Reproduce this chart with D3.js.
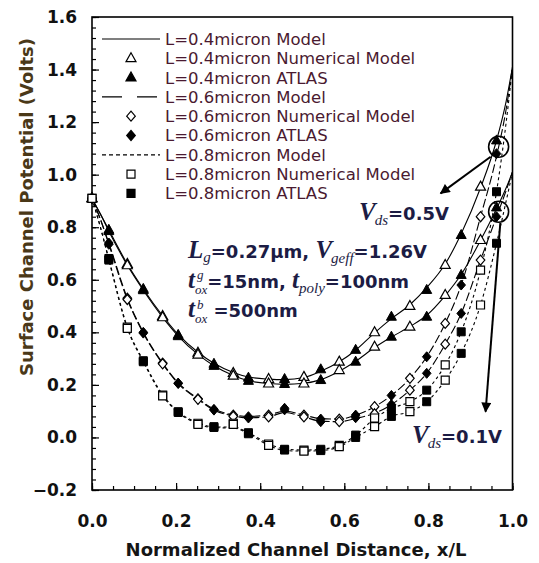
<!DOCTYPE html>
<html>
<head>
<meta charset="utf-8">
<script src="https://cdn.jsdelivr.net/npm/d3@7"></script>
<style>
  body { margin: 0; background: #fff; }
</style>
</head>
<body>
<svg id="chart" width="539" height="563"></svg>
<script>
// ---- data ----
const yTicks = [-0.2, 0.0, 0.2, 0.4, 0.6, 0.8, 1.0, 1.2, 1.4, 1.6];
const xTicks = [0.0, 0.2, 0.4, 0.6, 0.8, 1.0];

// model curves (lines)
const modelX = [0, 0.02, 0.04, 0.084, 0.122, 0.168, 0.205, 0.252, 0.29, 0.336, 0.372, 0.42, 0.458,
  0.504, 0.544, 0.588, 0.627, 0.672, 0.712, 0.756, 0.796, 0.84, 0.878, 0.924, 0.962, 0.985, 1.0];
const model04_05 = [0.91, 0.85, 0.79, 0.66, 0.565, 0.463, 0.392, 0.324, 0.282, 0.247, 0.23, 0.222, 0.22,
  0.228, 0.252, 0.288, 0.332, 0.398, 0.452, 0.505, 0.57, 0.66, 0.775, 0.95, 1.13, 1.28, 1.41];
const model04_01 = [0.91, 0.85, 0.785, 0.655, 0.56, 0.457, 0.386, 0.316, 0.273, 0.236, 0.216, 0.205, 0.202,
  0.206, 0.22, 0.252, 0.29, 0.342, 0.382, 0.422, 0.465, 0.54, 0.62, 0.75, 0.87, 0.95, 1.01];
const model06_05 = [0.91, 0.83, 0.74, 0.53, 0.40, 0.283, 0.208, 0.148, 0.108, 0.086, 0.08, 0.086, 0.1,
  0.085, 0.072, 0.07, 0.085, 0.117, 0.16, 0.225, 0.307, 0.434, 0.58, 0.84, 1.07, 1.25, 1.41];
const model06_01 = [0.91, 0.83, 0.735, 0.525, 0.397, 0.28, 0.205, 0.145, 0.104, 0.082, 0.075, 0.079, 0.095,
  0.078, 0.062, 0.06, 0.072, 0.092, 0.125, 0.18, 0.244, 0.355, 0.472, 0.675, 0.84, 0.94, 1.01];
const model08_05 = [0.91, 0.80, 0.68, 0.42, 0.292, 0.163, 0.098, 0.056, 0.04, 0.04, 0.018, -0.024, -0.044,
  -0.048, -0.045, -0.03, 0.008, 0.072, 0.11, 0.136, 0.18, 0.276, 0.402, 0.637, 0.935, 1.2, 1.41];
const model08_01 = [0.91, 0.80, 0.675, 0.415, 0.288, 0.158, 0.095, 0.052, 0.037, 0.036, 0.014, -0.03, -0.05,
  -0.052, -0.05, -0.035, 0.0, 0.041, 0.08, 0.098, 0.136, 0.218, 0.32, 0.504, 0.739, 0.9, 1.01];

// numerical model points (open markers)
const numX = [0, 0.084, 0.168, 0.252, 0.336, 0.42, 0.504, 0.588, 0.672, 0.756, 0.84, 0.924];
const num04_05 = [0.91, 0.66, 0.462, 0.322, 0.245, 0.222, 0.23, 0.288, 0.40, 0.50, 0.656, 0.954];
const num04_01 = [0.91, 0.655, 0.457, 0.315, 0.235, 0.205, 0.205, 0.256, 0.345, 0.421, 0.542, 0.751];
const num06_05 = [0.91, 0.53, 0.283, 0.147, 0.085, 0.085, 0.085, 0.07, 0.117, 0.225, 0.434, 0.84];
const num06_01 = [0.91, 0.525, 0.28, 0.145, 0.08, 0.078, 0.078, 0.06, 0.09, 0.18, 0.355, 0.675];
const num08_05 = [0.91, 0.42, 0.161, 0.054, 0.054, -0.025, -0.048, -0.03, 0.074, 0.136, 0.276, 0.637];
const num08_01 = [0.91, 0.415, 0.158, 0.05, 0.05, -0.03, -0.052, -0.035, 0.041, 0.098, 0.218, 0.504];

// ATLAS points (filled markers)
const atlasX = [0.04, 0.122, 0.205, 0.29, 0.372, 0.458, 0.544, 0.627, 0.712, 0.796, 0.878, 0.962];
const atlas04_05 = [0.79, 0.565, 0.39, 0.28, 0.227, 0.222, 0.259, 0.333, 0.459, 0.561, 0.77, 1.13];
const atlas04_01 = [0.785, 0.56, 0.385, 0.272, 0.215, 0.203, 0.218, 0.288, 0.383, 0.459, 0.618, 0.875];
const atlas06_05 = [0.74, 0.40, 0.207, 0.107, 0.079, 0.111, 0.07, 0.085, 0.16, 0.307, 0.58, 1.08];
const atlas06_01 = [0.735, 0.397, 0.205, 0.104, 0.074, 0.105, 0.06, 0.075, 0.125, 0.244, 0.472, 0.84];
const atlas08_05 = [0.681, 0.292, 0.098, 0.041, 0.018, -0.045, -0.045, 0.009, 0.11, 0.18, 0.402, 0.935];
const atlas08_01 = [0.675, 0.288, 0.095, 0.038, 0.014, -0.048, -0.05, 0.0, 0.08, 0.136, 0.32, 0.739];

const legendLabels = [
  "L=0.4micron Model", "L=0.4micron Numerical Model", "L=0.4micron ATLAS",
  "L=0.6micron Model", "L=0.6micron Numerical Model", "L=0.6micron ATLAS",
  "L=0.8micron Model", "L=0.8micron Numerical Model", "L=0.8micron ATLAS"
];

// ---- setup ----
const svg = d3.select("#chart");
const x = d3.scaleLinear().domain([0, 1]).range([92, 512.5]);
const y = d3.scaleLinear().domain([-0.2, 1.6]).range([490, 17]);

const SANS = "'DejaVu Sans', Verdana, sans-serif";
const SERIF = "'Liberation Serif', 'Times New Roman', serif";
const ANN = "#1c1c44";
const NB = "\u00a0";

const dashFor = { "0.4": null, "0.6": "9,3", "0.8": "3,3" };
const shapeFor = {
  "0.4": "M0,-5.6L5,3.4L-5,3.4Z",
  "0.6": "M0,-5L4.3,0L0,5L-4.3,0Z",
  "0.8": "M-4,-4H4V4H-4Z"
};

svg.append("defs").append("marker")
  .attr("id", "arrow").attr("viewBox", "0 0 10 10").attr("refX", 9).attr("refY", 5)
  .attr("markerWidth", 13).attr("markerHeight", 10).attr("markerUnits", "userSpaceOnUse")
  .attr("orient", "auto")
  .append("path").attr("d", "M0,0L10,5L0,10Z").attr("fill", "#000");

// ---- axes ----
const yMinor = d3.range(-0.2, 1.6001, 0.04);
const xMinor = d3.range(0, 1.0001, 0.05);

svg.append("g").attr("transform", "translate(92,0)")
  .call(d3.axisLeft(y).tickValues(yMinor).tickSize(-4).tickFormat(""))
  .call(g => g.select(".domain").remove());
svg.append("g").attr("transform", "translate(0,490)")
  .call(d3.axisBottom(x).tickValues(xMinor).tickSize(-4).tickFormat(""))
  .call(g => g.select(".domain").remove());

svg.append("g").attr("transform", "translate(92,0)")
  .call(d3.axisLeft(y).tickValues(yTicks).tickSize(-7).tickPadding(15).tickFormat(d3.format(".1f")))
  .call(g => g.select(".domain").remove())
  .call(g => g.selectAll("text").attr("font-family", SANS).attr("font-size", 17)
    .attr("font-weight", "bold").attr("fill", "#111"));

svg.append("g").attr("transform", "translate(0,490)")
  .call(d3.axisBottom(x).tickValues(xTicks).tickSize(-7).tickPadding(25).tickFormat(d3.format(".1f")))
  .call(g => g.select(".domain").remove())
  .call(g => g.selectAll("text").attr("font-family", SANS).attr("font-size", 17)
    .attr("font-weight", "bold").attr("fill", "#111"));

svg.selectAll(".tick line").attr("stroke", "#000").attr("stroke-width", 1.2);

svg.append("rect").attr("x", x(0)).attr("y", y(1.6))
  .attr("width", x(1) - x(0)).attr("height", y(-0.2) - y(1.6))
  .attr("fill", "none").attr("stroke", "#000").attr("stroke-width", 1.6);

svg.append("text").attr("x", 296).attr("y", 556).attr("text-anchor", "middle")
  .attr("font-family", SANS).attr("font-size", 18).attr("font-weight", "bold").attr("fill", "#151515")
  .text("Normalized Channel Distance, x/L");

svg.append("text").attr("transform", "translate(33,207) rotate(-90)").attr("text-anchor", "middle")
  .attr("font-family", SANS).attr("font-size", 18).attr("font-weight", "bold").attr("fill", "#4a3818")
  .text("Surface Channel Potential (Volts)");

// ---- curves ----
const curves = [
  { L: "0.4", model: model04_05, num: num04_05, atlas: atlas04_05 },
  { L: "0.4", model: model04_01, num: num04_01, atlas: atlas04_01 },
  { L: "0.6", model: model06_05, num: num06_05, atlas: atlas06_05 },
  { L: "0.6", model: model06_01, num: num06_01, atlas: atlas06_01 },
  { L: "0.8", model: model08_05, num: num08_05, atlas: atlas08_05 },
  { L: "0.8", model: model08_01, num: num08_01, atlas: atlas08_01 }
];

const line = d3.line().x(d => x(d[0])).y(d => y(d[1])).curve(d3.curveMonotoneX);
const plot = svg.append("g");

curves.forEach(c => {
  plot.append("path").datum(modelX.map((v, i) => [v, c.model[i]]))
    .attr("d", line).attr("fill", "none").attr("stroke", "#000").attr("stroke-width", 1.1)
    .attr("stroke-dasharray", dashFor[c.L]);
});

curves.forEach(c => {
  plot.selectAll(null).data(numX.map((v, i) => [v, c.num[i]])).join("path")
    .attr("d", shapeFor[c.L]).attr("transform", d => `translate(${x(d[0])},${y(d[1])})`)
    .attr("fill", "#fff").attr("stroke", "#000").attr("stroke-width", 1.2);
});
curves.forEach(c => {
  plot.selectAll(null).data(atlasX.map((v, i) => [v, c.atlas[i]])).join("path")
    .attr("d", shapeFor[c.L]).attr("transform", d => `translate(${x(d[0])},${y(d[1])})`)
    .attr("fill", "#000").attr("stroke", "#000").attr("stroke-width", 1);
});

// ---- circles and arrows ----
[[0.967, 1.106], [0.967, 0.859]].forEach(p => {
  svg.append("ellipse").attr("cx", x(p[0])).attr("cy", y(p[1])).attr("rx", 10).attr("ry", 10.5)
    .attr("fill", "none").attr("stroke", "#000").attr("stroke-width", 1.6);
});
[[[0.948, 1.068], [0.829, 0.929]], [[0.971, 0.816], [0.936, 0.098]]].forEach(a => {
  svg.append("line").attr("x1", x(a[0][0])).attr("y1", y(a[0][1]))
    .attr("x2", x(a[1][0])).attr("y2", y(a[1][1]))
    .attr("stroke", "#000").attr("stroke-width", 2).attr("marker-end", "url(#arrow)");
});

// ---- rich text: one <text> per line, tspans for sub/superscripts ----
function rich(x0, y0, parts) {
  const t = svg.append("text").attr("x", x0).attr("y", y0).attr("fill", ANN);
  let cur = 0, back = 0;
  parts.forEach(p => {
    const off = p.dy || 0;
    const ts = t.append("tspan").attr("dy", off - cur).attr("dx", (p.dx || 0) - back)
      .attr("font-family", p.serif ? SERIF : SANS).attr("font-size", p.size || 18)
      .attr("font-weight", p.bold === false ? "normal" : "bold")
      .attr("font-style", p.serif ? "italic" : "normal").text(p.t);
    cur = off;
    back = p.hold ? ts.node().getComputedTextLength() + (p.dx || 0) : 0;
  });
}

rich(359, 220, [
  { t: "V", serif: true, size: 25 }, { t: "ds", serif: true, size: 15, dy: 5, bold: false, dx: -1 },
  { t: "=0.5V" }
]);
rich(412, 443, [
  { t: "V", serif: true, size: 25 }, { t: "ds", serif: true, size: 15, dy: 5, bold: false, dx: -1 },
  { t: "=0.1V" }
]);
rich(188, 258, [
  { t: "L", serif: true, size: 25 }, { t: "g", serif: true, size: 15, dy: 4, bold: false },
  { t: "=0.27µm," + NB },
  { t: "V", serif: true, size: 25 }, { t: "geff", serif: true, size: 15, dy: 5, bold: false, dx: -1 },
  { t: "=1.26V" }
]);
rich(188, 288, [
  { t: "t", serif: true, size: 25 }, { t: "g", serif: true, size: 13, dy: -9, bold: false, hold: true, dx: 2 },
  { t: "ox", serif: true, size: 13, dy: 6, bold: false },
  { t: "=15nm," + NB },
  { t: "t", serif: true, size: 25 }, { t: "poly", serif: true, size: 15, dy: 5, bold: false },
  { t: "=100nm" }
]);
rich(188, 317, [
  { t: "t", serif: true, size: 25 }, { t: "b", serif: true, size: 13, dy: -8.5, bold: false, hold: true, dx: 2 },
  { t: "ox", serif: true, size: 13, dy: 6, bold: false },
  { t: NB + "=500nm" }
]);

// ---- legend ----
const leg = svg.append("g");
legendLabels.forEach((lab, i) => {
  const cy = 39 + i * 19.3;
  const L = ["0.4", "0.6", "0.8"][Math.floor(i / 3)];
  const kind = i % 3;
  if (kind === 0) {
    leg.append("line").attr("x1", 102).attr("x2", 160).attr("y1", cy).attr("y2", cy)
      .attr("stroke", "#000").attr("stroke-width", 1.2)
      .attr("stroke-dasharray", L === "0.4" ? null : L === "0.6" ? "20,15" : "4,3");
  } else {
    leg.append("path").attr("d", shapeFor[L]).attr("transform", `translate(131,${cy})`)
      .attr("fill", kind === 1 ? "#fff" : "#000").attr("stroke", "#000").attr("stroke-width", 1.2);
  }
  leg.append("text").attr("x", 165).attr("y", cy).attr("dy", "0.36em")
    .attr("font-family", SANS).attr("font-size", 16.5).attr("fill", "#4a1a30").text(lab);
});
</script>
</body>
</html>
